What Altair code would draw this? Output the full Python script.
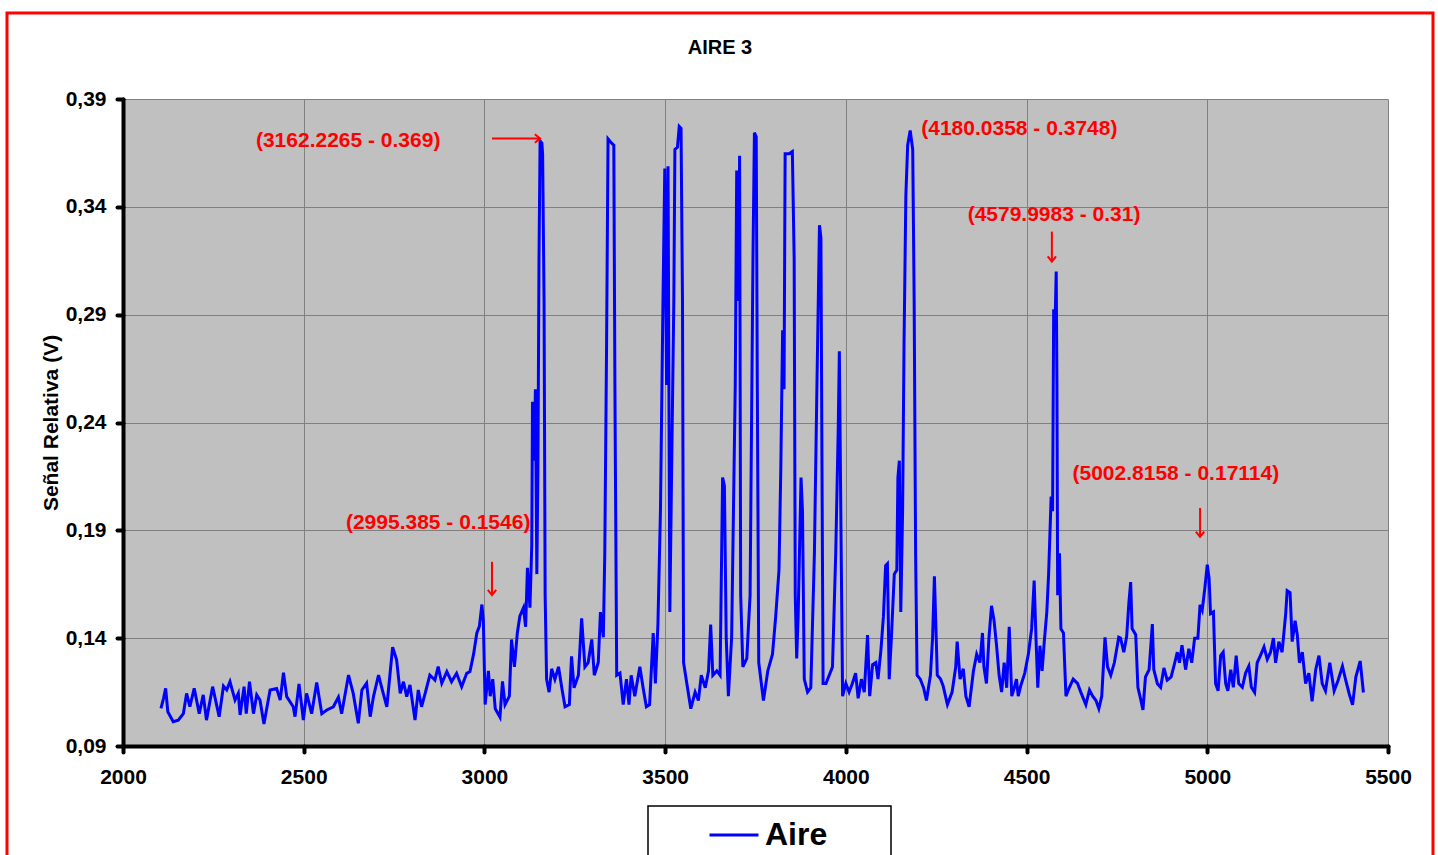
import altair as alt
import pandas as pd

# ---- data ----
wl_a = [2105, 2112, 2118, 2124, 2139, 2153, 2167, 2176, 2185, 2197,
        2211, 2222, 2231, 2248, 2266, 2278, 2287, 2296, 2310, 2319,
        2324, 2335, 2341, 2350, 2361, 2370, 2379, 2390, 2407, 2425,
        2435, 2444, 2453, 2471, 2476, 2487, 2499, 2508, 2522, 2536,
        2550, 2564, 2582, 2596, 2605, 2624, 2637, 2651, 2661, 2674,
        2684, 2693, 2707, 2720, 2730, 2746, 2757, 2767, 2776, 2785,
        2794, 2808, 2817, 2826, 2836, 2849, 2863, 2872, 2882, 2896,
        2909, 2923, 2937, 2951]
sig_a = [.1075, .112, .1167, .1059, .1013, .102, .105, .1144, .1082, .1167,
         .105, .1137, .102, .1175, .1036, .1178, .116, .1198, .1113, .1144,
         .1044, .1175, .105, .1198, .105, .1137, .1113, .1002, .116, .1167,
         .1113, .124, .1129, .1082, .1036, .1188, .102, .1144, .105, .1194,
         .105, .1067, .1082, .1126, .105, .1229, .1144, .1005, .116, .1191,
         .1036, .1129, .1229, .1144, .1082, .1358, .13, .1144, .1198, .1129,
         .1183, .102, .116, .1082, .1144, .1229, .1206, .1268, .1191, .1245,
         .1198, .1237, .1175, .1237]

wl_b = [2960, 2970, 2979, 2986, 2993, 2997, 3002, 3011, 3016, 3023,
        3030, 3043, 3050, 3057, 3069, 3075, 3083, 3091, 3098, 3108,
        3114, 3119, 3126, 3131, 3133, 3138, 3141, 3145, 3148, 3151,
        3154, 3159, 3161, 3165, 3168, 3172, 3179, 3186, 3195, 3205,
        3214, 3223, 3235, 3241, 3248, 3260, 3269, 3278, 3287, 3297,
        3304, 3315, 3321, 3329, 3333, 3338, 3342, 3352, 3358, 3361,
        3366, 3375, 3384, 3393, 3400, 3406, 3416, 3430, 3439, 3448,
        3457, 3467, 3473, 3480, 3487, 3494, 3499, 3504, 3508, 3513,
        3518, 3524, 3527, 3534, 3539, 3544, 3548, 3551, 3560, 3571,
        3583, 3592, 3600, 3611, 3620, 3626, 3632, 3643, 3652, 3659,
        3664, 3669, 3675, 3684, 3694, 3698, 3703, 3706, 3709, 3715,
        3726, 3735, 3743, 3747, 3752, 3755, 3759, 3772, 3784]
sig_b = [.1245, .1326, .1424, .1455, .1556, .1482, .1092, .1248, .1131, .121,
         .1073, .1034, .12, .1092, .1131, .1394, .1267, .1424, .1502, .1541,
         .1453, .1726, .1541, .1833, .2496, .2223, .2554, .1697, .2184, .3159,
         .3705, .3695, .3646, .2964, .1599, .1209, .115, .1258, .1209, .1267,
         .117, .1082, .1092, .1316, .117, .1228, .1492, .1267, .1287, .1394,
         .1228, .1287, .1521, .1404, .1794, .2769, .3715, .3695, .3686, .2574,
         .1228, .1238, .1092, .121, .1092, .1228, .1131, .1267, .117, .1082,
         .1092, .1424, .119, .1463, .1989, .2964, .3578, .2574, .3588, .1521,
         .2184, .2964, .3666, .3676, .3773, .3764, .2964, .1287, .119, .1073,
         .115, .1111, .1228, .117, .1248, .1463, .1228, .1248, .1228, .2145,
         .2106, .1404, .1131, .1404, .2574, .3569, .2964, .3637, .1599, .1267,
         .1306, .1599, .3159, .3744, .3725, .2574, .1287, .1111, .1248]

wl_c = [3797, 3806, 3815, 3820, 3825, 3829, 3832, 3843, 3852, 3857,
        3860, 3864, 3868, 3876, 3880, 3885, 3894, 3903, 3913, 3920,
        3927, 3931, 3934, 3937, 3945, 3954, 3963, 3972, 3979, 3982,
        3986, 3991, 4000, 4009, 4018, 4027, 4034, 4043, 4051, 4060,
        4066, 4074, 4083, 4089, 4097, 4104, 4110, 4115, 4120, 4126,
        4134, 4141, 4144, 4148, 4152, 4157, 4161, 4166, 4171, 4178,
        4185, 4189, 4193, 4197, 4206, 4215, 4223, 4234, 4240, 4245]
sig_c = [.1326, .1502, .1716, .2184, .2828, .2554, .3646, .3646, .3656, .3159,
         .1599, .1306, .1502, .2145, .1989, .121, .115, .117, .1794, .2574,
         .3315, .3256, .2184, .119, .119, .1228, .1267, .1794, .2379, .273,
         .1989, .1131, .119, .115, .119, .1238, .1121, .121, .115, .1414,
         .1131, .1277, .1287, .121, .1345, .1502, .1736, .1745, .121, .1404,
         .1697, .1716, .2145, .2223, .1521, .1989, .2769, .3452, .3686, .3754,
         .3666, .2964, .1794, .1228, .121, .117, .1111, .1228, .1404, .1687]

wl_d = [4250, 4253, 4262, 4269, 4281, 4294, 4304, 4308, 4316, 4325,
        4332, 4341, 4353, 4362, 4371, 4378, 4382, 4389, 4396, 4403,
        4410, 4417, 4424, 4431, 4438, 4445, 4452, 4459, 4466, 4472,
        4477, 4484, 4495, 4505, 4514, 4521, 4526, 4531, 4537, 4543,
        4549, 4556, 4561, 4568, 4572, 4575, 4579, 4582, 4584, 4586,
        4591, 4595, 4602, 4609, 4618, 4629, 4641, 4650, 4664, 4674,
        4683, 4692, 4700, 4708, 4717, 4724, 4733, 4743, 4755]
sig_d = [.1404, .1228, .121, .118, .1092, .115, .1267, .1384, .121, .1258,
         .1131, .1082, .1248, .1326, .1287, .1424, .1267, .119, .1404, .155,
         .1482, .1365, .1228, .115, .1287, .117, .1453, .1131, .117, .121,
         .1131, .118, .1238, .1326, .1443, .1667, .1404, .117, .1365, .1248,
         .1384, .1521, .1697, .2057, .1989, .2925, .2866, .31, .2574, .1599,
         .1794, .1443, .1424, .1131, .117, .121, .119, .115, .1092, .116,
         .1131, .1111, .1073, .1131, .1404, .1267, .1228, .1287, .1404]

wl_e = [4760, 4769, 4777, 4783, 4788, 4792, 4802, 4808, 4815, 4822,
        4829, 4839, 4848, 4852, 4862, 4871, 4880, 4889, 4900, 4910,
        4917, 4923, 4930, 4940, 4949, 4957, 4965, 4974, 4980, 4986,
        4993, 5000, 5005, 5009, 5017, 5023, 5030, 5037, 5044, 5051,
        5057, 5065, 5072, 5080, 5087, 5097, 5106, 5115, 5122, 5131,
        5138, 5147, 5157, 5166, 5175, 5183, 5189, 5198, 5207, 5217,
        5221, 5229, 5235, 5243, 5249, 5255, 5263, 5272, 5281, 5290,
        5300, 5309, 5318, 5327, 5339, 5351, 5362, 5374, 5383, 5393,
        5402, 5411, 5423, 5432]
sig_e = [.14, .1335, .1409, .1563, .166, .1445, .1416, .1172, .1122, .1067,
         .122, .1254, .1465, .1254, .1189, .1172, .1262, .1205, .122, .1286,
         .1335, .1286, .1367, .1254, .1351, .1286, .14, .14, .1554, .153,
         .1628, .1741, .1676, .1514, .1522, .1189, .1156, .1319, .1335, .1189,
         .1156, .1254, .1172, .1319, .1189, .1172, .1238, .127, .1172, .1148,
         .1286, .1319, .1359, .1302, .1335, .14, .1286, .1384, .1335, .1514,
         .162, .1611, .1384, .1481, .1416, .1286, .1335, .1189, .1238, .1107,
         .1254, .1319, .1189, .1156, .1286, .1156, .1205, .127, .1205, .114,
         .1091, .122, .1294, .1148]

series_name = "Aire"
chart_title = "AIRE 3"

ann_labels = ["(3162.2265 - 0.369)", "(2995.385 - 0.1546)", "(4180.0358 - 0.3748)",
              "(4579.9983 - 0.31)", "(5002.8158 - 0.17114)"]
ann_x = [2623, 2872, 4480, 4576, 4913]
ann_y = [0.3707, 0.1935, 0.3761, 0.3363, 0.2162]

arrow_x1 = [3021, 3021, 4570, 4980]
arrow_x2 = [3154, 3021, 4570, 4980]
arrow_y1 = [0.3717, 0.1754, 0.3285, 0.2004]
arrow_y2 = [0.3717, 0.1600, 0.3146, 0.1870]
arrow_dir = ["right", "down", "down", "down"]

x_ticks = [2000, 2500, 3000, 3500, 4000, 4500, 5000, 5500]
y_ticks = [0.09, 0.14, 0.19, 0.24, 0.29, 0.34, 0.39]

# ---- build ----
wavelength = wl_a + wl_b + wl_c + wl_d + wl_e
signal = sig_a + sig_b + sig_c + sig_d + sig_e
assert len(wavelength) == len(signal)

FONT = "Liberation Sans"

df = pd.DataFrame({"wavelength": wavelength, "signal": signal, "serie": series_name})
ann = pd.DataFrame({"label": ann_labels, "x": ann_x, "y": ann_y})
arr = pd.DataFrame({"x1": arrow_x1, "x2": arrow_x2, "y1": arrow_y1, "y2": arrow_y2, "dir": arrow_dir})

x_scale = alt.Scale(domain=[2000, 5500], nice=False, zero=False)
y_scale = alt.Scale(domain=[0.09, 0.39], nice=False, zero=False)
x_axis = alt.Axis(values=x_ticks, format="d", labelPadding=14, labelFlush=False)
y_axis = alt.Axis(values=y_ticks, labelExpr="replace(format(datum.value, '.2f'), '.', ',')",
                  labelPadding=11, titlePadding=4)
Y_TITLE = "Señal Relativa (V)"


def X(field):
    return alt.X(f"{field}:Q", scale=x_scale, title=None, axis=x_axis)


def Y(field):
    return alt.Y(f"{field}:Q", scale=y_scale, title=Y_TITLE, axis=y_axis)


frame = alt.Chart(alt.Data(values=[{}])).mark_rect(
    filled=False, stroke="#ff0000", strokeWidth=3
).encode(x=alt.value(-116), x2=alt.value(1310), y=alt.value(-86), y2=alt.value(900))

title_mark = alt.Chart(alt.Data(values=[{"t": chart_title}])).mark_text(
    font=FONT, fontSize=20, fontWeight="bold", color="black", align="center", baseline="middle"
).encode(x=alt.value(597), y=alt.value(-51), text="t:N")

legend_box = alt.Chart(alt.Data(values=[{}])).mark_rect(
    fill="white", stroke="black", strokeWidth=1.5
).encode(x=alt.value(525), x2=alt.value(768), y=alt.value(707), y2=alt.value(790))

line = alt.Chart(df).mark_line(strokeWidth=3).encode(
    x=X("wavelength"),
    y=Y("signal"),
    color=alt.Color(
        "serie:N",
        scale=alt.Scale(domain=[series_name], range=["#0000ff"]),
        legend=alt.Legend(
            title=None, orient="none", legendX=585, legendY=710,
            symbolType="stroke", symbolSize=2401, symbolStrokeWidth=3,
            labelFont=FONT, labelFontSize=32, labelFontWeight="bold",
            labelColor="black", labelOffset=5, padding=0,
        ),
    ),
)

texts = alt.Chart(ann).mark_text(
    font=FONT, fontSize=21, fontWeight="bold", color="#ff0000", align="center", baseline="middle"
).encode(x=X("x"), y=Y("y"), text="label:N")

shafts = alt.Chart(arr).mark_rule(color="#ff0000", strokeWidth=2).encode(
    x=X("x1"), x2="x2:Q", y=Y("y1"), y2="y2:Q"
)

heads = alt.Chart(arr).mark_point(
    filled=False, color="#ff0000", strokeWidth=2, size=110, opacity=1
).encode(
    x=X("x2"), y=Y("y2"),
    shape=alt.Shape(
        "dir:N",
        scale=alt.Scale(domain=["right", "down"],
                        range=["M-1,-0.8L0,0L-1,0.8", "M-0.8,-1L0,0L0.8,-1"]),
        legend=None,
    ),
)

chart = alt.layer(frame, title_mark, legend_box, line, texts, shafts, heads).properties(
    width=1265,
    height=647,
    padding={"left": 123, "top": 99, "right": 50, "bottom": 109},
    autosize=alt.AutoSizeParams(type="none"),
    background="white",
).configure_view(
    fill="#c0c0c0", strokeWidth=0
).configure_axis(
    labelFont=FONT, labelFontSize=21, labelFontWeight="bold", labelColor="black",
    titleFont=FONT, titleFontSize=21, titleFontWeight="bold", titleColor="black",
    domainColor="black", domainWidth=4, domainCap="round",
    tickColor="black", tickWidth=4, tickSize=6, tickCap="round",
    grid=True, gridColor="#808080", gridWidth=1,
)

chart.save("out.html", embed_options={"renderer": "svg", "actions": False})
